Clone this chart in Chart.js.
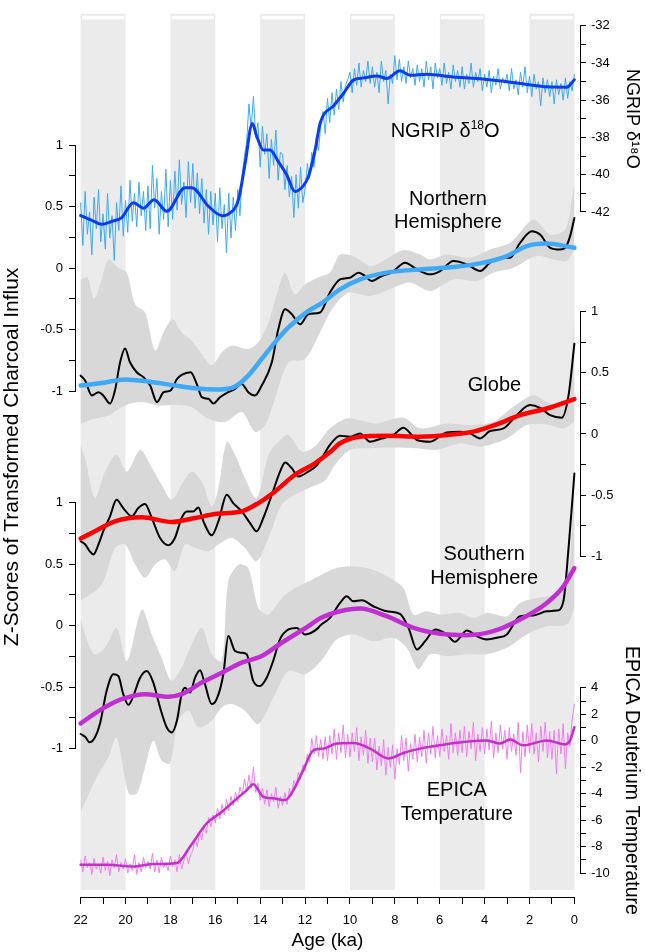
<!DOCTYPE html>
<html>
<head>
<meta charset="utf-8">
<script src="https://cdn.jsdelivr.net/npm/chart.js@4.4.0/dist/chart.umd.min.js"></script>
<style>
html,body{margin:0;padding:0;background:#fff;}
canvas{display:block;}
</style>
</head>
<body>
<canvas id="c" width="645" height="952"></canvas>
<script>
const FONT = "'Liberation Sans', Arial, Helvetica, sans-serif";

// ---------- categories / tick labels ----------
const bandRanges = [[22,20],[18,16],[14,12],[10,8],[6,4],[2,0]];
const xTickValues = [0,1,2,3,4,5,6,7,8,9,10,11,12,13,14,15,16,17,18,19,20,21,22];
const zTickValues = [-1,-0.75,-0.5,-0.25,0,0.25,0.5,0.75,1];
const ngripTickValues = [-42,-41,-40,-39,-38,-37,-36,-35,-34,-33,-32];
const epicaTickValues = [-10,-9,-8,-7,-6,-5,-4,-3,-2,-1,0,1,2,3,4];

// ---------- NGRIP d18O (per mil) ----------
const RAW_START = 22, RAW_STEP = 0.1;
const ngripRaw = [
-41.5,-43.8,-40.9,-43.2,-42.0,-44.3,-41.2,-42.9,-40.8,-43.6,
-42.1,-44.0,-41.0,-43.4,-42.2,-44.6,-41.5,-43.0,-40.6,-43.3,
-41.4,-43.1,-40.3,-42.5,-41.0,-42.8,-40.4,-42.2,-40.9,-43.0,
-40.6,-42.9,-39.5,-41.8,-40.2,-43.2,-40.9,-42.4,-39.7,-42.8,
-40.3,-42.4,-39.8,-41.9,-39.2,-41.6,-40.4,-42.3,-39.3,-41.5,
-39.4,-41.8,-39.9,-42.1,-40.2,-42.6,-40.8,-43.2,-40.9,-42.7,
-41.0,-43.6,-40.7,-42.9,-41.6,-44.2,-41.0,-43.4,-41.2,-43.0,
-40.8,-42.2,-40.0,-39.0,-38.2,-36.2,-37.5,-35.8,-38.0,-37.2,
-39.6,-37.4,-38.9,-37.8,-40.2,-38.1,-39.5,-37.6,-40.3,-38.8,
-38.9,-40.8,-39.5,-41.2,-40.1,-42.3,-40.0,-41.8,-39.6,-41.5,
-40.8,-39.4,-40.2,-38.8,-39.6,-38.0,-38.7,-37.3,-36.6,-37.8,
-35.9,-37.2,-35.6,-36.8,-35.4,-36.5,-35.0,-36.1,-35.2,-34.9,
-34.5,-35.6,-34.3,-35.2,-34.0,-35.3,-34.4,-35.0,-33.9,-35.1,
-34.2,-35.3,-34.5,-35.6,-33.9,-35.0,-34.4,-36.2,-34.6,-35.1,
-33.6,-34.9,-33.8,-35.0,-34.2,-35.1,-33.9,-34.8,-34.3,-35.2,
-34.1,-35.0,-34.3,-35.3,-33.9,-34.9,-34.2,-35.4,-34.0,-34.8,
-34.3,-35.2,-34.0,-35.1,-34.5,-35.4,-34.1,-35.0,-34.4,-35.3,
-34.2,-35.4,-34.6,-35.1,-34.0,-35.3,-34.5,-35.0,-34.3,-35.5,
-34.6,-35.3,-34.4,-35.6,-34.7,-35.2,-34.3,-35.4,-34.8,-35.1,
-34.6,-35.5,-34.3,-35.4,-34.9,-35.7,-34.5,-35.3,-34.2,-35.6,
-34.7,-35.8,-34.6,-35.4,-35.0,-36.3,-34.8,-35.6,-34.9,-35.8,
-35.0,-36.2,-34.9,-35.7,-35.1,-36.0,-34.8,-35.9,-35.0,-35.5,
-34.6];
const ngripSmooth = [[22,-42.2],[21.5,-42.45],[21.06,-42.66],[20.6,-42.5],[20.17,-42.3],[19.65,-41.5],[19.2,-41.8],[18.73,-41.35],[18.16,-41.96],[17.35,-40.7],[17.05,-40.7],[16.3,-41.7],[15.7,-42.2],[15.4,-42.1],[14.97,-41.35],[14.67,-39.4],[14.35,-37.25],[14.15,-37.95],[13.86,-38.67],[13.56,-38.67],[13.19,-39.3],[12.82,-40.0],[12.45,-40.9],[12.08,-40.6],[11.85,-40.1],[11.55,-38.67],[11.33,-37.25],[10.7,-36.26],[10.29,-35.64],[9.85,-34.92],[9.4,-34.8],[8.8,-34.7],[8.36,-34.83],[7.77,-34.42],[7.32,-34.66],[6.58,-34.6],[5.4,-34.75],[4.35,-34.83],[3.16,-34.98],[2.12,-35.15],[1.23,-35.28],[0.34,-35.3],[0,-34.9]];

// ---------- Northern Hemisphere z-scores ----------
const nhBlack = [[22,-0.873],[21.8,-0.913],[21.5,-1.035],[21.2,-1.008],[20.99,-1.035],[20.69,-1.10],[20.47,-0.995],[20.24,-0.765],[20.02,-0.652],[19.8,-0.765],[19.5,-0.846],[19.2,-0.887],[18.9,-0.954],[18.6,-1.089],[18.3,-1.008],[18.0,-0.995],[17.7,-0.90],[17.5,-0.868],[17.1,-0.846],[16.8,-0.954],[16.6,-1.049],[16.3,-1.062],[16.09,-1.10],[15.79,-1.049],[15.42,-1.008],[15.12,-0.981],[14.82,-0.941],[14.53,-1.008],[14.23,-1.035],[13.93,-0.954],[13.48,-0.765],[13.19,-0.495],[12.89,-0.334],[12.59,-0.374],[12.22,-0.455],[11.85,-0.374],[11.33,-0.36],[10.89,-0.198],[10.44,-0.091],[10.0,-0.077],[9.62,-0.036],[9.33,-0.063],[9.03,-0.104],[8.58,-0.063],[8.14,-0.036],[7.54,0.045],[7.02,-0.01],[6.43,-0.05],[5.98,-0.023],[5.39,0.058],[4.79,0.031],[4.2,-0.023],[3.76,0.045],[3.31,0.085],[2.87,0.085],[2.42,0.206],[1.9,0.301],[1.53,0.274],[1.08,0.166],[0.63,0.152],[0.41,0.166],[0.19,0.261],[0,0.409]];
const nhSmooth = [[22,-0.954],[21.06,-0.933],[20.0,-0.905],[18.98,-0.922],[17.8,-0.954],[16.9,-0.976],[15.86,-0.986],[15.12,-0.962],[14.53,-0.873],[13.93,-0.738],[13.34,-0.603],[12.74,-0.482],[11.85,-0.347],[11.33,-0.293],[10.44,-0.172],[9.55,-0.091],[8.36,-0.036],[6.88,-0.01],[5.39,0.01],[4.2,0.039],[3.01,0.099],[2.12,0.18],[1.23,0.20],[0,0.166]];
const nhUpper = [[22,-0.09],[21.7,-0.077],[21.4,-0.25],[21.06,-0.09],[20.76,0.07],[20.32,0.004],[19.94,-0.036],[19.57,-0.293],[19.13,-0.36],[18.68,-0.67],[18.3,-0.52],[17.9,-0.415],[17.5,-0.52],[17.05,-0.59],[16.6,-0.698],[16.16,-0.79],[15.7,-0.684],[15.27,-0.63],[14.53,-0.657],[14.08,-0.603],[13.63,-0.441],[13.19,-0.172],[12.89,-0.036],[12.45,-0.212],[12.0,-0.131],[11.26,-0.063],[10.89,-0.036],[10.66,0.045],[10.44,0.112],[9.85,0.099],[9.1,0.018],[8.66,0.045],[7.62,0.147],[6.88,0.112],[6.43,0.071],[5.69,0.112],[4.65,0.085],[3.76,0.152],[2.87,0.206],[1.83,0.395],[1.08,0.274],[0.41,0.314],[0.07,0.611],[0,0.7]];
const nhLower = [[22,-1.265],[21.4,-1.224],[20.76,-1.197],[20.02,-1.116],[19.27,-1.089],[18.53,-1.116],[17.8,-1.11],[17.05,-1.13],[16.3,-1.224],[15.57,-1.251],[14.82,-1.17],[14.23,-1.332],[13.78,-1.278],[13.34,-1.062],[12.74,-0.765],[12.0,-0.738],[11.33,-0.52],[10.89,-0.36],[10.44,-0.25],[10.0,-0.198],[9.1,-0.225],[8.07,-0.158],[7.32,-0.117],[6.43,-0.185],[5.39,-0.091],[4.35,-0.104],[3.61,-0.036],[2.72,0.004],[1.68,0.099],[0.93,0.071],[0.34,0.058],[0,0.152]];

// ---------- Globe z-scores ----------
const glBlack = [[22,-0.876],[21.8,-0.90],[21.6,-0.957],[21.43,-0.984],[21.2,-0.90],[20.99,-0.794],[20.69,-0.672],[20.4,-0.537],[20.1,-0.605],[19.72,-0.672],[19.43,-0.605],[19.13,-0.572],[18.83,-0.686],[18.46,-0.849],[18.09,-0.908],[17.8,-0.849],[17.5,-0.686],[17.27,-0.632],[16.98,-0.632],[16.75,-0.6],[16.53,-0.713],[16.16,-0.827],[15.86,-0.713],[15.49,-0.496],[15.2,-0.564],[14.82,-0.632],[14.45,-0.727],[14.16,-0.794],[13.86,-0.686],[13.48,-0.496],[13.11,-0.306],[12.89,-0.233],[12.59,-0.28],[12.3,-0.347],[11.85,-0.306],[11.5,-0.26],[11.2,-0.18],[10.89,-0.089],[10.44,-0.014],[10.0,-0.022],[9.55,0.005],[9.1,-0.063],[8.66,-0.041],[8.07,-0.008],[7.62,0.051],[7.02,-0.049],[6.43,-0.063],[5.69,0.013],[5.09,0.019],[4.65,0.005],[4.2,-0.036],[3.76,0.024],[3.16,0.046],[2.57,0.154],[1.98,0.236],[1.53,0.214],[1.08,0.154],[0.56,0.133],[0.26,0.317],[0,0.737]];
const glSmooth = [[22,-0.854],[21.36,-0.794],[20.47,-0.713],[19.27,-0.68],[17.95,-0.719],[16.9,-0.686],[16.0,-0.653],[14.82,-0.632],[14.08,-0.564],[13.34,-0.469],[12.45,-0.333],[11.56,-0.239],[10.9,-0.15],[10.44,-0.076],[9.55,-0.022],[8.36,-0.014],[6.88,-0.022],[5.39,-0.003],[4.5,0.019],[3.46,0.078],[2.42,0.154],[1.23,0.208],[0,0.285]];
const glUpper = [[22,-0.089],[21.8,-0.198],[21.36,-0.523],[20.91,-0.306],[20.4,-0.17],[19.94,-0.306],[19.35,-0.13],[18.9,-0.252],[18.39,-0.415],[17.95,-0.537],[17.5,-0.415],[17.05,-0.306],[16.6,-0.388],[16.16,-0.591],[15.86,-0.442],[15.49,-0.063],[15.12,-0.17],[14.68,-0.361],[14.16,-0.523],[13.63,-0.17],[13.19,-0.063],[12.74,-0.008],[12.15,-0.144],[11.56,-0.103],[10.89,0.046],[10.14,0.127],[9.4,0.106],[8.8,0.086],[7.62,0.133],[6.88,0.046],[5.69,0.086],[4.65,0.073],[3.61,0.1],[2.72,0.222],[1.83,0.317],[1.08,0.249],[0.34,0.249],[0.15,0.4],[0,1.0]];
const glLower = [[22,-1.363],[21.06,-1.228],[20.47,-0.93],[20.02,-0.902],[19.57,-1.065],[19.13,-1.174],[18.68,-1.065],[18.24,-1.024],[17.8,-1.12],[17.35,-0.902],[16.9,-0.93],[16.3,-0.957],[15.86,-0.902],[15.27,-0.849],[14.68,-0.93],[14.16,-1.038],[13.63,-0.849],[13.04,-0.577],[12.45,-0.496],[11.85,-0.442],[11.11,-0.38],[10.66,-0.25],[10.0,-0.13],[9.1,-0.117],[8.07,-0.111],[7.02,-0.117],[6.13,-0.13],[5.09,-0.076],[4.2,-0.103],[3.01,-0.036],[2.12,0.073],[1.23,0.078],[0.49,0.046],[0,0.1]];

// ---------- Southern Hemisphere z-scores ----------
const shBlack = [[22,-0.881],[21.8,-0.903],[21.6,-0.949],[21.36,-0.908],[21.14,-0.80],[20.84,-0.53],[20.54,-0.395],[20.32,-0.409],[20.1,-0.557],[19.87,-0.644],[19.65,-0.571],[19.35,-0.423],[19.05,-0.368],[18.76,-0.463],[18.46,-0.666],[18.16,-0.828],[17.94,-0.868],[17.71,-0.773],[17.5,-0.557],[17.35,-0.504],[17.12,-0.544],[16.9,-0.423],[16.68,-0.363],[16.46,-0.476],[16.16,-0.638],[15.94,-0.598],[15.64,-0.395],[15.42,-0.085],[15.12,-0.206],[14.82,-0.22],[14.6,-0.233],[14.31,-0.449],[14.01,-0.49],[13.71,-0.423],[13.42,-0.287],[13.12,-0.112],[12.74,-0.031],[12.37,-0.018],[12.0,-0.071],[11.41,-0.018],[11.33,0.0],[10.89,0.063],[10.44,0.185],[10.14,0.239],[9.85,0.198],[9.47,0.206],[8.96,0.158],[8.36,0.117],[7.77,0.096],[7.39,-0.018],[7.02,-0.193],[6.65,-0.126],[6.2,-0.031],[5.69,-0.071],[5.32,-0.131],[4.79,-0.039],[4.35,-0.085],[3.91,-0.112],[3.46,-0.099],[3.01,-0.071],[2.42,0.077],[1.83,0.083],[1.23,0.117],[0.78,0.123],[0.49,0.198],[0.26,0.63],[0,1.237]];
const shSmooth = [[22,-0.795],[21.06,-0.679],[20.17,-0.598],[19.13,-0.557],[18.09,-0.579],[17.5,-0.557],[16.6,-0.463],[15.71,-0.382],[14.82,-0.301],[13.93,-0.247],[13.04,-0.139],[11.85,-0.004],[11.33,0.06],[10.44,0.117],[9.55,0.139],[8.36,0.077],[7.17,-0.018],[5.98,-0.066],[4.79,-0.077],[3.61,-0.045],[2.42,0.05],[1.23,0.185],[0.49,0.32],[0,0.468]];
const shUpper = [[22,0.063],[21.7,-0.126],[21.36,-0.233],[20.91,-0.18],[20.4,-0.018],[19.94,-0.287],[19.27,0.131],[18.83,-0.071],[18.39,-0.261],[17.95,-0.449],[17.5,-0.342],[17.12,-0.18],[16.6,-0.018],[16.16,-0.233],[15.71,-0.287],[15.42,0.36],[14.97,0.496],[14.53,0.468],[14.08,0.144],[13.63,0.091],[13.04,0.225],[12.45,0.306],[11.85,0.36],[11.26,0.415],[10.59,0.468],[9.85,0.482],[8.96,0.455],[8.22,0.387],[7.62,0.306],[7.17,0.091],[6.58,0.117],[5.98,0.091],[5.09,0.104],[4.5,0.063],[3.91,0.104],[3.01,0.077],[2.42,0.185],[1.68,0.225],[0.93,0.253],[0.34,0.387],[0.1,0.8],[0,1.3]];
const shLower = [[22,-1.52],[21.36,-1.259],[20.76,-1.07],[20.4,-0.908],[19.87,-1.36],[19.5,-1.367],[19.13,-1.151],[18.76,-0.935],[18.39,-1.097],[18.02,-1.12],[17.65,-0.773],[17.2,-0.692],[16.75,-0.827],[16.16,-0.773],[15.71,-0.665],[15.27,-0.638],[14.68,-0.692],[14.08,-0.8],[13.34,-0.557],[12.74,-0.368],[12.0,-0.395],[11.3,-0.29],[10.59,-0.112],[9.85,-0.071],[8.96,-0.126],[8.07,-0.099],[7.47,-0.18],[6.95,-0.355],[6.43,-0.233],[5.69,-0.247],[4.79,-0.233],[3.91,-0.233],[3.01,-0.18],[2.12,-0.071],[1.23,-0.004],[0.34,0.01],[0,0.144]];

// ---------- EPICA deuterium temperature ----------
const epicaRaw = [
-9.0,-9.9,-8.7,-9.6,-9.2,-10.1,-8.9,-9.7,-9.3,-10.0,
-8.8,-9.8,-9.1,-10.2,-9.0,-9.6,-8.6,-9.9,-9.2,-9.7,
-8.9,-10.0,-9.3,-9.8,-8.6,-10.1,-9.2,-9.9,-8.8,-9.6,
-9.1,-9.7,-8.5,-9.9,-9.0,-10.0,-8.8,-9.6,-9.2,-9.8,
-8.7,-9.5,-9.0,-9.9,-8.6,-9.7,-9.1,-8.4,-9.3,-8.6,
-8.3,-7.4,-8.0,-6.9,-7.5,-6.4,-7.0,-5.8,-6.5,-5.6,
-6.2,-5.1,-5.9,-4.8,-5.6,-4.4,-5.3,-4.2,-4.9,-3.9,
-4.6,-3.5,-4.1,-2.9,-3.8,-2.6,-3.6,-2.0,-3.9,-3.2,
-4.5,-3.6,-4.8,-3.7,-5.0,-4.0,-4.6,-3.5,-5.1,-4.2,
-4.9,-3.9,-4.8,-3.6,-4.2,-3.0,-3.5,-2.4,-2.9,-1.8,
-2.3,-1.0,-1.6,0.2,-1.0,0.4,-1.2,0.1,-1.4,0.3,
-1.5,0.4,-1.0,0.9,-1.4,0.6,-0.9,1.2,-1.3,0.5,
-1.2,0.6,-0.8,1.0,-1.5,0.3,-1.1,0.8,-1.7,0.2,
-1.6,0.2,-2.2,-0.4,-1.9,0.1,-2.6,-0.5,-2.0,-0.3,
-2.9,-0.6,-1.8,0.4,-1.5,0.2,-2.3,-0.2,-1.4,0.5,
-1.6,0.3,-1.2,0.8,-1.7,0.6,-1.0,1.1,-1.3,0.4,
-1.2,0.9,-0.8,0.4,-1.4,1.3,-0.9,0.6,-1.1,0.8,
-0.9,1.1,-1.2,0.7,-0.6,1.4,-1.5,0.5,-0.8,1.0,
-1.0,0.9,-0.7,1.5,-1.3,0.6,-0.9,1.2,-0.6,0.8,
-1.4,1.0,-0.8,0.5,-1.1,1.4,-2.4,0.7,-1.2,1.2,
-0.9,1.3,-1.0,0.6,-1.6,1.1,-0.8,1.4,-1.3,0.7,
-1.4,0.8,-2.5,0.9,-1.0,1.3,-2.1,0.6,-0.4,1.6,
2.8];
const epicaSmooth = [[22,-9.37],[20.84,-9.37],[19.65,-9.5],[18.76,-9.32],[17.71,-9.24],[17.12,-7.99],[16.38,-6.23],[15.79,-5.48],[15.2,-4.61],[14.6,-3.73],[14.31,-3.28],[13.86,-4.23],[13.42,-4.35],[12.89,-4.48],[12.52,-3.73],[12.08,-2.22],[11.63,-0.72],[11.18,-0.59],[10.59,-0.21],[9.85,-0.17],[9.1,-0.59],[8.29,-1.34],[7.62,-0.92],[6.88,-0.59],[5.84,-0.29],[4.94,-0.09],[3.91,0.03],[3.31,-0.21],[2.87,0.09],[2.27,-0.34],[1.23,0.03],[0.41,-0.27],[0.19,0.03],[0,1.03]];

// ---------- text labels inside the plot ----------
const chartLabels = [
  {axis:'yNG', age:5.76, val:-37.67, lines:[[['NGRIP \u03B4',0],['18',1],['O',0]]]},
  {axis:'yNH', age:5.63, val:0.466, lines:[[['Northern',0]],[['Hemisphere',0]]]},
  {axis:'yGL', age:3.56, val:0.398, lines:[[['Globe',0]]]},
  {axis:'ySH', age:4.02, val:0.482, lines:[[['Southern',0]],[['Hemisphere',0]]]},
  {axis:'yEP', age:5.24, val:-4.67, lines:[[['EPICA',0]],[['Temperature',0]]]}
];

// ---------- helpers ----------
const toXY = arr => arr.map(p => ({x: p[0], y: p[1]}));
const rawXY = arr => arr.map((v, i) => ({x: +(RAW_START - i * RAW_STEP).toFixed(2), y: v}));

function series(data, yAxisID, color, width, order, extra) {
  return Object.assign({
    type: 'line', data, xAxisID: 'x', yAxisID, clip: false,
    borderColor: color, backgroundColor: color, borderWidth: width,
    pointRadius: 0, pointHoverRadius: 0, fill: false, order,
    cubicInterpolationMode: 'monotone', borderJoinStyle: 'round', borderCapStyle: 'round'
  }, extra || {});
}
function envelope(upper, lower, yAxisID) {
  return [
    series(toXY(upper), yAxisID, 'rgba(0,0,0,0)', 0, 20, {cubicInterpolationMode: 'default', tension: 0.3}),
    series(toXY(lower), yAxisID, 'rgba(0,0,0,0)', 0, 20, {cubicInterpolationMode: 'default', tension: 0.3, fill: '-1', backgroundColor: '#d8d8d8'})
  ];
}

const isHalf = v => Math.abs(v * 2 - Math.round(v * 2)) < 1e-9;
const isEven = v => Math.abs(v % 2) < 1e-9;
const SIDE_W = {left: 75, right: 65};
const BOTTOM_H = 55;

function yAxis(pos, stack, w, weight, extra) {
  return Object.assign({
    type: 'linear', axis: 'y', position: pos, stack, stackWeight: w, weight, display: true,
    grid: {drawOnChartArea: false, drawTicks: true, tickLength: 6, color: '#000', lineWidth: 1},
    border: {display: true, color: '#000', width: 1},
    afterFit: s => { s.width = SIDE_W[pos]; }
  }, extra);
}
function tickOpts(pos, cb) {
  return {autoSkip: false, color: '#000', font: {family: FONT, size: 13}, padding: pos === 'left' ? 6 : 5, callback: cb};
}
function spacer(pos, stack, w, weight) {
  const vertical = (pos === 'left' || pos === 'right');
  return {type: 'linear', axis: vertical ? 'y' : 'x', position: pos, stack, stackWeight: w, weight, display: false,
    afterFit: s => { if (vertical) s.width = SIDE_W[pos]; else s.height = BOTTOM_H; }};
}

// ---------- plugins ----------
const bandPlugin = {
  id: 'bands',
  beforeDatasetsDraw(chart) {
    const {ctx, chartArea} = chart;
    const xs = chart.scales.x;
    ctx.save();
    for (const [a, b] of bandRanges) {
      const x1 = xs.getPixelForValue(a), x2 = xs.getPixelForValue(b);
      const l = Math.min(x1, x2), w = Math.abs(x2 - x1);
      ctx.fillStyle = '#ebebeb';
      ctx.fillRect(l, chartArea.top, w, chartArea.bottom - 7 - chartArea.top);
      ctx.fillStyle = '#ffffff';
      ctx.fillRect(l + 1.5, chartArea.top + 2, w - 3, 3.5);
    }
    ctx.restore();
  }
};
function drawRich(ctx, segs, cx, y) {
  const big = '20px ' + FONT, small = '12px ' + FONT;
  let total = 0;
  const ws = segs.map(s => { ctx.font = s[1] ? small : big; const w = ctx.measureText(s[0]).width; total += w; return w; });
  let x = cx - total / 2;
  ctx.textAlign = 'left';
  segs.forEach((s, i) => { ctx.font = s[1] ? small : big; ctx.fillText(s[0], x, s[1] ? y - 6 : y); x += ws[i]; });
}
const labelPlugin = {
  id: 'textLabels',
  afterDatasetsDraw(chart) {
    const ctx = chart.ctx, xs = chart.scales.x;
    ctx.save();
    ctx.fillStyle = '#000';
    ctx.textBaseline = 'middle';
    for (const L of chartLabels) {
      const cx = xs.getPixelForValue(L.age);
      const cy = chart.scales[L.axis].getPixelForValue(L.val);
      const n = L.lines.length;
      L.lines.forEach((ln, i) => drawRich(ctx, ln, cx, cy + (i - (n - 1) / 2) * 23.5));
    }
    ctx.restore();
  }
};

// ---------- datasets ----------
const datasets = [
  ...envelope(nhUpper, nhLower, 'yNH'),
  ...envelope(glUpper, glLower, 'yGL'),
  ...envelope(shUpper, shLower, 'ySH'),
  series(rawXY(ngripRaw), 'yNG', '#3fa9f5', 1, 15, {cubicInterpolationMode: 'default', tension: 0, borderJoinStyle: 'miter', borderCapStyle: 'butt'}),
  series(rawXY(epicaRaw), 'yEP', '#f07ef0', 1, 15, {cubicInterpolationMode: 'default', tension: 0, borderJoinStyle: 'miter', borderCapStyle: 'butt'}),
  series(toXY(nhBlack), 'yNH', '#000000', 2, 10),
  series(toXY(glBlack), 'yGL', '#000000', 2, 10),
  series(toXY(shBlack), 'ySH', '#000000', 2, 10),
  series(toXY(ngripSmooth), 'yNG', '#0a3cf0', 3, 5),
  series(toXY(nhSmooth), 'yNH', '#3fa9f5', 4.5, 5),
  series(toXY(glSmooth), 'yGL', '#ff0000', 4.5, 5),
  series(toXY(shSmooth), 'ySH', '#c030d0', 4.5, 5),
  series(toXY(epicaSmooth), 'yEP', '#c42fc8', 2.5, 5)
];

new Chart(document.getElementById('c'), {
  type: 'line',
  data: {datasets},
  plugins: [bandPlugin, labelPlugin],
  options: {
    responsive: false,
    animation: false,
    events: [],
    layout: {padding: {top: 10, left: 0, right: 0, bottom: 0}},
    plugins: {legend: {display: false}, tooltip: {enabled: false}},
    scales: {
      xL: spacer('bottom', 'B', 0.25, 1),
      x: {
        type: 'linear', axis: 'x', position: 'bottom', stack: 'B', stackWeight: 22, weight: 2,
        reverse: true, min: 0, max: 22,
        afterBuildTicks: s => { s.ticks = xTickValues.map(v => ({value: v})); },
        afterFit: s => { s.height = BOTTOM_H; },
        ticks: {autoSkip: false, maxRotation: 0, minRotation: 0, padding: 9, color: '#000', font: {family: FONT, size: 13},
                callback: v => isEven(v) ? String(v) : ''},
        grid: {drawOnChartArea: false, drawTicks: true, tickLength: 7, color: '#000', lineWidth: 1},
        border: {display: true, color: '#000', width: 1},
        title: {display: true, text: 'Age (ka)', color: '#000', font: {family: FONT, size: 19}, padding: {top: 0, bottom: 0}}
      },
      xR: spacer('bottom', 'B', 0.25, 3),

      sL1: spacer('left', 'L', 132, 6),
      yNH: yAxis('left', 'L', 247, 5, {min: -1, max: 1,
        afterBuildTicks: s => { s.ticks = zTickValues.map(v => ({value: v})); },
        ticks: tickOpts('left', v => isHalf(v) ? String(v) : '')}),
      sL2: spacer('left', 'L', 20, 4),
      sLT: {type: 'linear', axis: 'y', position: 'left', stack: 'L', stackWeight: 92, weight: 3, display: true,
        ticks: {display: false}, grid: {display: false}, border: {display: false},
        afterFit: s => { s.width = SIDE_W.left; },
        title: {display: true, text: 'Z-Scores of Transformed Charcoal Influx', color: '#000', font: {family: FONT, size: 21}, padding: {top: 0, bottom: 0}}},
      ySH: yAxis('left', 'L', 247, 2, {min: -1, max: 1,
        afterBuildTicks: s => { s.ticks = zTickValues.map(v => ({value: v})); },
        ticks: tickOpts('left', v => isHalf(v) ? String(v) : '')}),
      sL3: spacer('left', 'L', 149, 1),

      sR0: spacer('right', 'R', 12, 1),
      yNG: yAxis('right', 'R', 187, 2, {min: -42, max: -32,
        afterBuildTicks: s => { s.ticks = ngripTickValues.map(v => ({value: v})); },
        ticks: tickOpts('right', v => isEven(v) ? String(v) : ''),
        title: {display: true, text: 'NGRIP \u03B4\u00B9\u2078O', color: '#000', font: {family: FONT, size: 18}, padding: {top: 2, bottom: 0}}}),
      sR1: spacer('right', 'R', 100, 3),
      yGL: yAxis('right', 'R', 246, 4, {min: -1, max: 1,
        afterBuildTicks: s => { s.ticks = zTickValues.map(v => ({value: v})); },
        ticks: tickOpts('right', v => isHalf(v) ? String(v) : '')}),
      sR2: spacer('right', 'R', 132, 5),
      yEP: yAxis('right', 'R', 186, 6, {min: -10, max: 4,
        afterBuildTicks: s => { s.ticks = epicaTickValues.map(v => ({value: v})); },
        ticks: tickOpts('right', v => isEven(v) ? String(v) : ''),
        title: {display: true, text: 'EPICA Deuterium Temperature', color: '#000', font: {family: FONT, size: 19.5}, padding: {top: 2, bottom: 0}}}),
      sR3: spacer('right', 'R', 24, 7)
    }
  }
});
</script>
</body>
</html>
